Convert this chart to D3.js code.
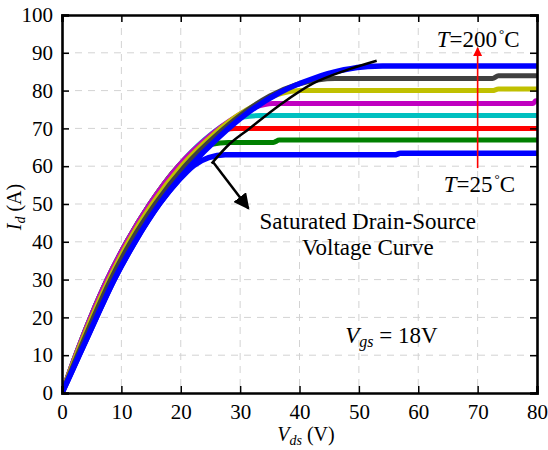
<!DOCTYPE html>
<html>
<head>
<meta charset="utf-8">
<script src="https://cdn.jsdelivr.net/npm/d3@7"></script>
<style>
  html, body { margin: 0; padding: 0; background: #fff; }
  svg, svg text { font-family: 'Liberation Serif', 'Times New Roman', serif !important; }
  svg { display: block; }
</style>
</head>
<body>
<svg id="chart" width="548" height="450"></svg>
<script>
// Axis ticks
const xTicks = [0, 10, 20, 30, 40, 50, 60, 70, 80];
const yTicks = [0, 10, 20, 30, 40, 50, 60, 70, 80, 90, 100];

// Output curves Id(Vds) at Vgs = 18 V, one per junction temperature, [Vds, Id]
const curveT1 = [[0,0],[2.9,10],[5.8,20],[8.8,30],[12.3,40],[16.4,50],[19.8,56.5],[22.2,60.2],[24.7,62.3],[27.5,63.0],[56.0,63.0],[57.0,63.4],[80,63.4]];
const curveT2 = [[0,0],[2.3,10],[4.8,20],[7.6,30],[10.9,40],[14.8,50],[19.6,60],[22.4,63.6],[25.2,65.8],[28.0,66.3],[35.6,66.3],[36.6,66.9],[80,66.9]];
const curveT3 = [[0,0],[2.3,10],[4.8,20],[7.6,30],[10.9,40],[14.8,50],[19.6,60],[23.2,65.6],[26.2,68.9],[29.0,70.0],[80,70.0]];
const curveT4 = [[0,0],[2.3,10],[4.8,20],[7.6,30],[10.9,40],[14.8,50],[19.6,60],[24.0,67.0],[27.4,71.0],[30.5,73.0],[33.5,73.4],[80,73.4]];
const curveT5 = [[0,0],[2.3,10],[4.8,20],[7.6,30],[10.9,40],[14.8,50],[19.6,60],[25.0,68.2],[29.0,72.8],[32.5,75.6],[35.5,76.6],[79.3,76.6],[79.8,77.3],[80,77.3]];
const curveT6 = [[0,0],[2.4,10],[5.0,20],[7.9,30],[11.2,40],[15.2,50],[20.1,60],[25.6,68.5],[29.5,73.3],[33.5,77.0],[37.0,79.3],[40.0,80.0],[72.5,80.0],[73.5,80.4],[80,80.4]];
const curveT7 = [[0,0],[2.6,10],[5.3,20],[8.2,30],[11.6,40],[15.7,50],[20.7,60],[26.3,68.6],[30.5,74.0],[35.0,78.6],[39.5,81.6],[43.0,82.8],[46.0,83.2],[72.5,83.2],[73.5,83.9],[80,83.9]];
const curveT8 = [[0,0],[2.9,10],[5.8,20],[8.8,30],[12.3,40],[16.4,50],[21.3,59.5],[26.5,67.8],[31.0,73.8],[36.7,79.5],[42.3,83.2],[47.5,85.5],[51.5,86.4],[54.0,86.5],[80,86.5]];

const seriesColors = ["#0000ff", "#008000", "#ff0000", "#00c0c0", "#c000c0", "#c0c000", "#404040", "#0000ff"];
const seriesData = [curveT1, curveT2, curveT3, curveT4, curveT5, curveT6, curveT7, curveT8];

// Saturated drain-source voltage boundary, [Vds, Id]
const saturationCurve = [[25.2,60.7],[28.3,66.0],[31.6,70.0],[36.7,76.2],[42.3,81.9],[47.9,85.4],[53.0,87.9]];

const svg = d3.select("#chart");
const plotLeft = 62, plotRight = 537, plotTop = 15, plotBottom = 393;
const serif = "'Liberation Serif', 'Times New Roman', serif";

const x = d3.scaleLinear().domain([0, 80]).range([plotLeft, plotRight]);
const y = d3.scaleLinear().domain([0, 100]).range([plotBottom, plotTop]);

// dashed grid
const grid = svg.append("g");
grid.selectAll("line.gx").data(xTicks.slice(1, -1)).join("line")
  .attr("x1", d => x(d)).attr("x2", d => x(d))
  .attr("y1", plotTop).attr("y2", plotBottom)
  .attr("stroke", "#d3d3d3").attr("stroke-width", 1).attr("stroke-dasharray", "7,6");
grid.selectAll("line.gy").data(yTicks.slice(1, -1)).join("line")
  .attr("y1", d => y(d)).attr("y2", d => y(d))
  .attr("x1", plotLeft).attr("x2", plotRight)
  .attr("stroke", "#d3d3d3").attr("stroke-width", 1).attr("stroke-dasharray", "7,6");

// clip curves at the plot frame
svg.append("clipPath").attr("id", "plotclip").append("rect")
  .attr("x", plotLeft).attr("y", plotTop).attr("width", plotRight - plotLeft).attr("height", plotBottom - plotTop);

// curves
const line = d3.line().x(d => x(d[0])).y(d => y(d[1])).curve(d3.curveMonotoneX);
const curves = svg.append("g").attr("clip-path", "url(#plotclip)");
seriesData.forEach((s, i) => {
  curves.append("path").datum(s)
    .attr("d", line)
    .attr("fill", "none")
    .attr("stroke", seriesColors[i])
    .attr("stroke-width", (i === 0 || i === 7) ? 5.5 : 5)
    .attr("stroke-linejoin", "round")
    .attr("stroke-linecap", "round");
});

// saturation boundary
svg.append("path").datum(saturationCurve)
  .attr("d", d3.line().x(d => x(d[0])).y(d => y(d[1])).curve(d3.curveCatmullRom))
  .attr("fill", "none").attr("stroke", "#000").attr("stroke-width", 2.5);

// axes (ticks pointing inward on all four sides)
const fmt = d3.format("d");
const axB = svg.append("g").attr("transform", `translate(0,${plotBottom})`)
  .call(d3.axisBottom(x).tickValues(xTicks).tickSize(-7).tickPadding(11).tickFormat(fmt));
const axT = svg.append("g").attr("transform", `translate(0,${plotTop})`)
  .call(d3.axisTop(x).tickValues(xTicks).tickSize(-7).tickFormat(""));
const axL = svg.append("g").attr("transform", `translate(${plotLeft},0)`)
  .call(d3.axisLeft(y).tickValues(yTicks).tickSize(-7).tickPadding(9).tickFormat(fmt));
const axR = svg.append("g").attr("transform", `translate(${plotRight},0)`)
  .call(d3.axisRight(y).tickValues(yTicks).tickSize(-7).tickFormat(""));
[axB, axT, axL, axR].forEach(a => {
  a.attr("font-family", null).attr("font-size", null).style("font-family", serif);
  a.select(".domain").attr("stroke", "#000").attr("stroke-width", 2.6);
  a.selectAll(".tick line").attr("stroke", "#000").attr("stroke-width", 1.5);
  a.selectAll(".tick text").attr("fill", "#000").style("font-size", "21px").style("font-family", serif);
});

// axis titles
const xt = svg.append("text").attr("x", 306).attr("y", 441)
  .attr("text-anchor", "middle").style("font-size", "20px");
xt.append("tspan").attr("font-style", "italic").text("V");
xt.append("tspan").attr("font-style", "italic").style("font-size", "14px").attr("dy", 4).text("ds");
xt.append("tspan").attr("dy", -4).text(" (V)");

const yt = svg.append("text").attr("transform", "translate(21,207) rotate(-90)")
  .attr("text-anchor", "middle").style("font-size", "20px");
yt.append("tspan").attr("font-style", "italic").text("I");
yt.append("tspan").attr("font-style", "italic").style("font-size", "14px").attr("dy", 4).text("d");
yt.append("tspan").attr("dy", -4).text(" (A)");

// arrow markers
const defs = svg.append("defs");
defs.append("marker").attr("id", "headBlack").attr("viewBox", "0 0 10 10")
  .attr("refX", 9).attr("refY", 5).attr("markerWidth", 16).attr("markerHeight", 16)
  .attr("markerUnits", "userSpaceOnUse").attr("orient", "auto")
  .append("path").attr("d", "M0,0 L10,5 L0,10 Z").attr("fill", "#000");
defs.append("marker").attr("id", "headRed").attr("viewBox", "0 0 10 10")
  .attr("refX", 9).attr("refY", 5).attr("markerWidth", 11).attr("markerHeight", 9)
  .attr("markerUnits", "userSpaceOnUse").attr("orient", "auto")
  .append("path").attr("d", "M0,0 L10,5 L0,10 Z").attr("fill", "#ff0000");

// pointer to saturation boundary
svg.append("line")
  .attr("x1", x(25.4)).attr("y1", y(61.2))
  .attr("x2", x(31.4)).attr("y2", y(48.8))
  .attr("stroke", "#000").attr("stroke-width", 2.5).attr("marker-end", "url(#headBlack)");

svg.append("text").attr("x", x(51.5)).attr("y", y(43.3)).attr("text-anchor", "middle")
  .style("font-size", "23px").text("Saturated Drain-Source");
svg.append("text").attr("x", x(51.5)).attr("y", y(36.4)).attr("text-anchor", "middle")
  .style("font-size", "23px").text("Voltage Curve");

// temperature arrow
svg.append("line")
  .attr("x1", x(70)).attr("y1", y(59.5))
  .attr("x2", x(70)).attr("y2", y(91.3))
  .attr("stroke", "#ff0000").attr("stroke-width", 1.6).attr("marker-end", "url(#headRed)");

function tempLabel(vx, vy, value) {
  const t = svg.append("text").attr("x", x(vx)).attr("y", y(vy)).attr("text-anchor", "middle").style("font-size", "23px");
  t.append("tspan").attr("font-style", "italic").text("T");
  t.append("tspan").text("=" + value);
  t.append("tspan").style("font-size", "13px").attr("dx", 2).attr("dy", -9).text("°");
  t.append("tspan").attr("dy", 9).text("C");
}
tempLabel(70.1, 91.5, "200");
tempLabel(70.3, 53.2, "25");

// gate voltage note
const vg = svg.append("text").attr("x", x(47.7)).attr("y", y(13.1)).style("font-size", "23px");
vg.append("tspan").attr("font-style", "italic").text("V");
vg.append("tspan").attr("font-style", "italic").style("font-size", "16px").attr("dy", 4).text("gs");
vg.append("tspan").attr("dy", -4).text(" = 18V");
</script>
</body>
</html>
